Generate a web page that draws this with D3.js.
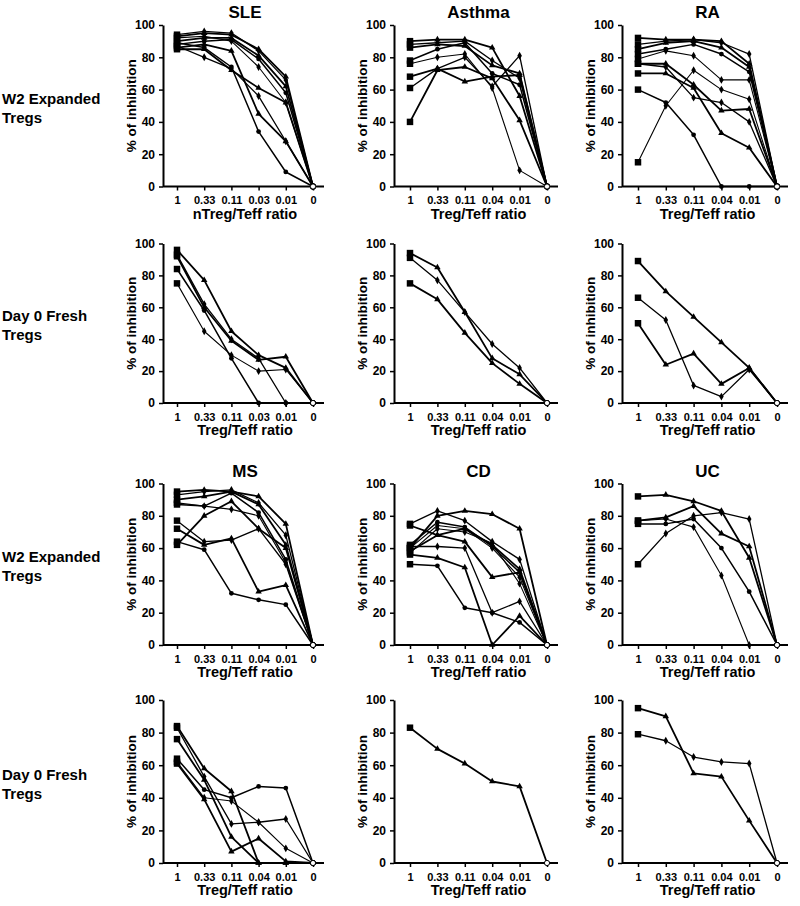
<!DOCTYPE html>
<html><head><meta charset="utf-8">
<script src="https://cdn.jsdelivr.net/npm/d3@7"></script>
<style>
body{margin:0;background:#fff;}
text{font-family:"Liberation Sans",Arial,Helvetica,sans-serif;font-weight:bold;fill:#000;}
</style></head>
<body><svg id="c" width="800" height="906"></svg>
<script>
// ---------- data ----------
const ratiosSLE = ["1","0.33","0.11","0.03","0.01","0"];
const ratiosStd = ["1","0.33","0.11","0.04","0.01","0"];
const yTickValues = [0,20,40,60,80,100];
const rowLabels = [["W2 Expanded","Tregs"],["Day 0 Fresh","Tregs"],["W2 Expanded","Tregs"],["Day 0 Fresh","Tregs"]];
const panelTitles = ["SLE","Asthma","RA","","","","MS","CD","UC","","",""];
const xTitles = ["nTreg/Teff ratio","Treg/Teff ratio","Treg/Teff ratio","Treg/Teff ratio","Treg/Teff ratio","Treg/Teff ratio",
                 "Treg/Teff ratio","Treg/Teff ratio","Treg/Teff ratio","Treg/Teff ratio","Treg/Teff ratio","Treg/Teff ratio"];

const sleW2 = [
  [93,95,94,85,68,0],[94,96,95,84,66,0],[90,92,92,81,62,0],[88,90,91,79,58,0],
  [92,93,90,74,52,0],[86,88,84,45,28,0],[87,80,73,56,28,0],[85,85,72,61,52,0],[89,86,74,34,9,0]
];
const asthmaW2 = [
  [90,91,91,86,56,0],[88,89,90,78,67,0],[86,88,87,75,70,0],[78,85,89,70,63,0],
  [76,80,82,61,10,0],[68,73,65,68,69,0],[61,73,80,62,81,0],[40,72,74,67,41,0]
];
const raW2 = [
  [92,91,91,90,76,0],[88,90,91,89,82,0],[85,89,90,86,74,0],[82,85,88,82,71,0],[79,84,81,66,66,0],
  [76,76,63,47,48,0],[76,74,55,52,40,0],[70,70,61,33,24,0],[60,52,32,0,0,0],[15,50,72,60,54,0]
];
const sleD0 = [
  [96,77,45,30,22,0],[93,62,40,28,0,0],[92,60,39,27,29,0],[84,58,28,0,0,0],[75,45,30,20,21,0]
];
const asthmaD0 = [[94,85,57,28,18,0],[91,77,57,37,22,0],[75,65,44,25,12,0]];
const raD0 = [[89,70,54,38,22,0],[66,52,11,4,21,0],[50,24,31,12,22,0]];
const msW2 = [
  [95,96,95,92,75,0],[93,95,96,88,68,0],[90,92,95,87,62,0],[87,86,94,82,53,0],[88,86,84,80,51,0],
  [62,80,89,72,60,0],[77,64,65,72,50,0],[72,62,66,33,37,0],[64,59,32,28,25,0]
];
const cdW2 = [
  [60,80,83,81,72,0],[75,83,77,64,53,0],[74,68,72,62,47,0],[62,76,73,61,45,0],[60,74,72,60,42,0],
  [58,68,64,42,45,0],[61,61,60,20,27,0],[56,54,48,0,18,0],[50,49,23,20,14,0],[57,72,70,63,38,0]
];
const ucW2 = [
  [92,93,89,83,54,0],[50,69,80,82,78,0],[77,79,86,69,61,0],[75,75,78,60,33,0],[77,78,73,43,0,0]
];
const msD0 = [
  [84,58,44,0,0,0],[83,53,24,25,27,0],[76,51,16,0,0,0],[64,45,40,47,46,0],[62,40,38,25,9,0],[61,39,7,15,1,0]
];
const cdD0 = [[83,70,61,50,47,0]];
const ucD0 = [[95,90,55,53,26,0],[79,75,65,62,61,0]];

const panelSeries = [sleW2, asthmaW2, raW2, sleD0, asthmaD0, raD0, msW2, cdW2, ucW2, msD0, cdD0, ucD0];
const panelRatios = [ratiosSLE, ratiosStd, ratiosStd, ratiosSLE, ratiosStd, ratiosStd,
                     ratiosStd, ratiosStd, ratiosStd, ratiosStd, ratiosStd, ratiosStd];

// ---------- layout ----------
const colAxisX = [163, 394, 622];
const colX0 = [177, 410, 638];
const colX1 = [313, 547, 777];
const rowY100 = [25, 243.5, 483.5, 700];
const rowY0 = [186.5, 403, 645, 863];

const svg = d3.select("#c");

// row labels
rowLabels.forEach((lines, r) => {
  const cy = (rowY100[r] + rowY0[r]) / 2;
  const t = svg.append("text").attr("x", 2).attr("y", cy - 2).style("font-size", "15px");
  t.append("tspan").attr("x", 2).attr("dy", 0).text(lines[0]);
  t.append("tspan").attr("x", 2).attr("dy", 19).text(lines[1]);
});

const midSymbols = [d3.symbolTriangle, d3.symbolDiamond, d3.symbolTriangle, d3.symbolCircle, d3.symbolDiamond];
const widths = [1.8, 1.3, 1.8, 1.5, 1.1];

panelSeries.forEach((series, i) => {
  const r = Math.floor(i / 3), c = i % 3;
  const x = d3.scalePoint().domain(panelRatios[i]).range([colX0[c], colX1[c]]);
  const y = d3.scaleLinear().domain([0, 100]).range([rowY0[r], rowY100[r]]);
  const g = svg.append("g");

  // y axis
  const ya = g.append("g").attr("transform", `translate(${colAxisX[c]},0)`)
    .call(d3.axisLeft(y).tickValues(yTickValues).tickSize(4).tickSizeOuter(0).tickPadding(4));
  ya.select(".domain").attr("stroke", "#000").attr("stroke-width", 2);
  ya.selectAll(".tick line").attr("stroke", "#000").attr("stroke-width", 1.5);
  ya.selectAll(".tick text").style("font-size", "12px").style("font-family", "'Liberation Sans',Arial,sans-serif").style("font-weight", "bold");

  // x axis
  const xa = g.append("g").attr("transform", `translate(0,${rowY0[r]})`)
    .call(d3.axisBottom(x).tickSize(4).tickSizeOuter(0).tickPadding(6));
  xa.select(".domain").remove();
  xa.append("line").attr("x1", colAxisX[c]).attr("x2", colX1[c] + 11).attr("y1", 0).attr("y2", 0)
    .attr("stroke", "#000").attr("stroke-width", 2);
  xa.selectAll(".tick line").attr("stroke", "#000").attr("stroke-width", 1.5);
  xa.selectAll(".tick text").style("font-size", "11px").style("font-family", "'Liberation Sans',Arial,sans-serif").style("font-weight", "bold");

  // x title
  g.append("text").attr("x", (colX0[c] + colX1[c]) / 2).attr("y", rowY0[r] + 32)
    .attr("text-anchor", "middle").style("font-size", "14.5px").text(xTitles[i]);
  // y title
  g.append("text").attr("transform", `translate(${colAxisX[c] - 27},${(rowY0[r] + rowY100[r]) / 2}) rotate(-90)`)
    .attr("text-anchor", "middle").style("font-size", "13.5px").text("% of inhibition");
  // panel title
  if (panelTitles[i]) {
    g.append("text").attr("x", (colX0[c] + colX1[c]) / 2).attr("y", rowY100[r] - 7)
      .attr("text-anchor", "middle").style("font-size", "17px").text(panelTitles[i]);
  }

  const line = d3.line().x((d, j) => x(panelRatios[i][j])).y(d => y(d));
  series.forEach((s, k) => {
    g.append("path").attr("d", line(s)).attr("fill", "none").attr("stroke", "#000")
      .attr("stroke-width", widths[k % widths.length]).attr("stroke-linejoin", "round");
  });
  series.forEach((s, k) => {
    s.forEach((v, j) => {
      const px = x(panelRatios[i][j]), py = y(v);
      if (j === 0) {
        g.append("path").attr("d", d3.symbol().type(d3.symbolSquare).size(42)())
          .attr("transform", `translate(${px},${py})`).attr("fill", "#000");
      } else if (j === s.length - 1) {
        g.append("circle").attr("cx", px).attr("cy", py).attr("r", 2.6)
          .attr("fill", "#fff").attr("stroke", "#000").attr("stroke-width", 1);
      } else {
        g.append("path").attr("d", d3.symbol().type(midSymbols[k % midSymbols.length]).size(18)())
          .attr("transform", `translate(${px},${py})`).attr("fill", "#000");
      }
    });
  });
});
</script></body></html>
